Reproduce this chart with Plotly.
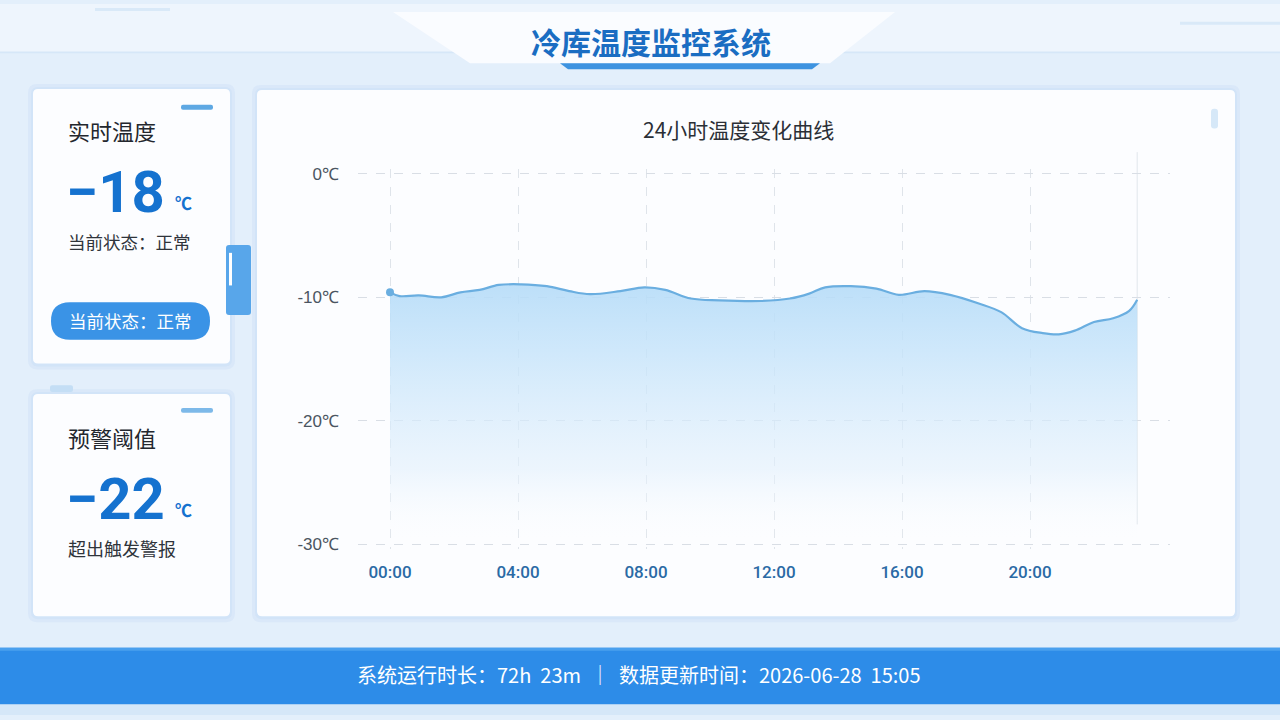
import plotly.graph_objects as go

# ---------------- data ----------------
hours = [0, 0.3, 0.9, 1.6, 2.2, 2.8, 3.4, 4.1, 4.9, 5.6, 6.25, 7.2, 7.95, 8.6,
         9.4, 10.3, 11.6, 12.5, 13.1, 13.6, 14.4, 15.2, 15.9, 16.7, 17.5, 18.4,
         19.1, 19.75, 20.4, 20.9, 21.4, 22.0, 22.6, 23.1, 23.35]
temps = [-9.6, -9.9, -9.85, -10.0, -9.6, -9.4, -9.0, -8.95, -9.1, -9.5, -9.75,
         -9.5, -9.2, -9.4, -10.1, -10.25, -10.3, -10.1, -9.7, -9.2, -9.1, -9.3,
         -9.8, -9.5, -9.8, -10.5, -11.2, -12.5, -12.9, -13.0, -12.7, -12.0,
         -11.7, -11.1, -10.2]
x_tick_vals = [0, 4, 8, 12, 16, 20]
x_tick_text = ["00:00", "04:00", "08:00", "12:00", "16:00", "20:00"]
y_tick_vals = [0, -10, -20, -30]
y_tick_text = ["0℃", "-10℃", "-20℃", "-30℃"]
y_floor = -30

title_text = "冷库温度监控系统"
chart_title = "24小时温度变化曲线"
card1 = {"label": "实时温度", "value": "−18", "unit": "℃", "sub": "当前状态：正常", "button": "当前状态：正常"}
card2 = {"label": "预警阈值", "value": "−22", "unit": "℃", "sub": "超出触发警报"}
footer_text = "系统运行时长：72h  23m  ｜  数据更新时间：2026-06-28  15:05"

W, H = 1280, 720
CJK = "Noto Sans CJK SC"


def px(x):
    return x / W


def py(y):
    return 1 - y / H


def rrect(x0, y0, x1, y1, r):
    pts = [
        f"M {px(x0 + r)} {py(y0)}",
        f"L {px(x1 - r)} {py(y0)}",
        f"Q {px(x1)} {py(y0)} {px(x1)} {py(y0 + r)}",
        f"L {px(x1)} {py(y1 - r)}",
        f"Q {px(x1)} {py(y1)} {px(x1 - r)} {py(y1)}",
        f"L {px(x0 + r)} {py(y1)}",
        f"Q {px(x0)} {py(y1)} {px(x0)} {py(y1 - r)}",
        f"L {px(x0)} {py(y0 + r)}",
        f"Q {px(x0)} {py(y0)} {px(x0 + r)} {py(y0)}",
        "Z",
    ]
    return " ".join(pts)


def poly(points):
    s = "M " + " L ".join(f"{px(a)} {py(b)}" for a, b in points) + " Z"
    return s


shapes = []


def add_path(path, fill, line_color=None, width=0, layer="below"):
    shapes.append(dict(type="path", path=path, xref="paper", yref="paper",
                       fillcolor=fill, line=dict(color=line_color or fill, width=width),
                       layer=layer))


def add_rect(x0, y0, x1, y1, fill, layer="below"):
    shapes.append(dict(type="rect", xref="paper", yref="paper",
                       x0=px(x0), x1=px(x1), y0=py(y1), y1=py(y0),
                       fillcolor=fill, line=dict(width=0), layer=layer))


# background
add_rect(0, 0, W, H, "#e3effb")
add_rect(0, 0, W, 50, "#eef5fd")
add_rect(0, 48, 470, 50, "#d6e7f8")
add_rect(820, 48, W, 50, "#d6e7f8")
add_rect(95, 4, 170, 7, "#d9e9f8")
add_rect(1180, 18, 1280, 21, "#d9e9f8")
add_rect(0, 709, W, H, "#d5e7f8")
# title panel
add_path(poly([(393, 8), (895, 8), (830, 60), (470, 60)]), "#fafcff")
add_path(poly([(560, 60), (820, 60), (812, 66), (568, 66)]), "#3d93e0")

# card shadows + cards
for (x0, y0, x1, y1) in [(33, 86, 230, 364), (33, 395, 230, 620), (257, 87, 1235, 620)]:
    add_path(rrect(x0 - 5, y0 - 5, x1 + 5, y1 + 6, 9), "rgba(200,222,245,0.35)")
    add_path(rrect(x0 - 2, y0 - 2, x1 + 2, y1 + 3, 7), "rgba(205,225,246,0.6)")
    add_path(rrect(x0, y0, x1, y1, 5), "#fcfdff")

# small accent bars
add_path(rrect(181, 102, 213, 107, 2), "#5ea8e3")
add_path(rrect(181, 409, 213, 414, 2), "#7db9e9")
add_path(rrect(50, 386, 73, 393, 2), "#c4def5")
# side tab near chart card
add_path(rrect(226, 244, 251, 315, 3), "#58a6ea")
add_rect(229, 252, 232, 285, "#ffffff")
# scroll indicator
add_path(rrect(1211, 106, 1218, 126, 3), "#d6e8f8")
# button
add_path(rrect(51, 302, 210, 340, 19), "#3a93e6")
# footer bar
add_rect(0, 652, W, 709, "#2d8ce8")
add_rect(0, 652, W, 655, "#4aa0ee")
# final vertical line at end of data
shapes.append(dict(type="line", xref="x", yref="paper", x0=hours[-1], x1=hours[-1],
                   y0=py(527), y1=py(150), line=dict(color="#e1e6ec", width=1), layer="below"))

annotations = []


def add_text(x, y, text, size, color, anchor="left", bold=False, family=CJK):
    t = f"<b>{text}</b>" if bold else text
    annotations.append(dict(x=px(x), y=py(y), xref="paper", yref="paper", text=t,
                            showarrow=False, xanchor=anchor, yanchor="middle",
                            font=dict(size=size, color=color, family=family)))


add_text(651, 37, title_text, 30, "#1a6dc2", anchor="center", bold=True)
add_text(738, 127, chart_title, 21, "#2b2f36", anchor="center")

add_text(66, 128, card1["label"], 22, "#23272e")
add_text(64, 190, card1["value"], 58, "#1572cf", bold=True, family="Roboto")
add_text(173, 201, card1["unit"], 17, "#1572cf", bold=True)
add_text(66, 241, card1["sub"], 17.5, "#2f343b")
add_text(130, 321, card1["button"], 17.5, "#ffffff", anchor="center")

add_text(66, 438, card2["label"], 22, "#23272e")
add_text(64, 501, card2["value"], 58, "#1572cf", bold=True, family="Roboto")
add_text(173, 512, card2["unit"], 17, "#1572cf", bold=True)
add_text(66, 551, card2["sub"], 18, "#2f343b")

add_text(639, 679, footer_text, 20, "#ffffff", anchor="center")

fig = go.Figure()
fig.add_trace(go.Scatter(x=hours, y=[y_floor] * len(hours), mode="lines",
                         line=dict(width=0, color="rgba(0,0,0,0)"), hoverinfo="skip",
                         showlegend=False))
fig.add_trace(go.Scatter(
    x=hours, y=temps, mode="lines", line=dict(color="#6aaee0", width=2.2, shape="spline"),
    fill="tonexty",
    fillgradient=dict(type="vertical", start=y_floor, stop=max(temps),
                      colorscale=[[0, "rgba(255,255,255,0)"],
                                  [0.3, "rgba(226,240,252,0.6)"],
                                  [0.75, "rgba(196,227,250,0.8)"],
                                  [1, "rgba(182,220,248,0.9)"]]),
    showlegend=False))
fig.add_trace(go.Scatter(x=[hours[0]], y=[temps[0]], mode="markers",
                         marker=dict(size=8, color="#6aaee0"), showlegend=False))

fig.update_layout(
    width=W, height=H, margin=dict(l=0, r=0, t=0, b=0),
    paper_bgcolor="#e3effb", plot_bgcolor="rgba(0,0,0,0)",
    shapes=shapes, annotations=annotations, showlegend=False,
    xaxis=dict(domain=[px(358), px(1170)], range=[-1, 24.375],
               tickvals=x_tick_vals, ticktext=x_tick_text,
               showgrid=True, gridcolor="#dfe4ea", griddash="dash", gridwidth=1,
               zeroline=False, showline=False, ticks="", ticklabelstandoff=11,
               tickfont=dict(family="Roboto", size=17, color="#2a6aa5", weight=500)),
    yaxis=dict(domain=[py(552), py(167)], range=[-30.4, 0.4],
               tickvals=y_tick_vals, ticktext=y_tick_text,
               showgrid=True, gridcolor="#d9dee5", griddash="dash", gridwidth=1,
               zeroline=False, showline=False, ticks="", ticklabelstandoff=18,
               tickfont=dict(family="Liberation Sans", size=17, color="#4b5561")),
)

fig.write_html("out.html")
